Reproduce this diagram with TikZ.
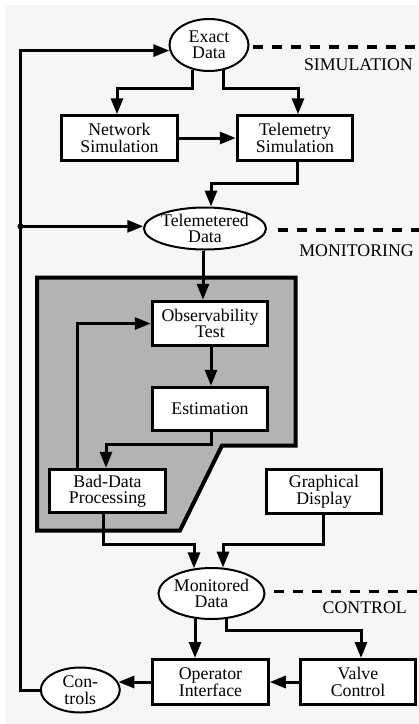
\documentclass[tikz,border=0pt]{standalone}
\usepackage{fontspec}
\setmainfont{Liberation Serif}
\usetikzlibrary{shapes.geometric,arrows.meta}
\definecolor{bgc}{HTML}{F6F6F6}
\definecolor{panel}{HTML}{B3B3B3}
\begin{document}
\begin{tikzpicture}[x=1pt,y=-1pt,
  txt/.style={font=\fontsize{17.8}{16.5}\selectfont},
  box/.style={txt,draw,line width=3pt,fill=white,rectangle,inner sep=0pt,
    minimum width=115.5pt,minimum height=44.5pt,align=center},
  oval/.style={txt,draw,line width=2pt,fill=white,ellipse,inner sep=-8pt,align=center},
  arr/.style={line width=3pt,-{Triangle[length=16pt,width=12pt]}},
  dashline/.style={line width=3.5pt,dash pattern=on 10pt off 9pt},
  lab/.style={txt,inner sep=0pt,anchor=east}]
\useasboundingbox (0,0) rectangle (419,724);
\fill[white] (0,0) rectangle (419,724);
\fill[bgc] (5,5) rectangle (419,724);
% shaded monitoring panel
\draw[line width=4pt,fill=panel,line join=miter]
  (37,277.5) -- (295.5,277.5) -- (295.5,445.5) -- (222,445.5) -- (180,530.5) -- (37,530.5) -- cycle;
% nodes
\node[oval,minimum width=79pt,minimum height=52pt] (ed) at (209,45) {Exact\\Data};
\node[box] (ns) at (119.5,138) {Network\\Simulation};
\node[box] (ts) at (295,138) {Telemetry\\Simulation};
\node[oval,minimum width=122pt,minimum height=42pt] (tel) at (205,228.5) {Telemetered\\Data};
\node[box] (obs) at (210,323.5) {Observability\\Test};
\node[box,minimum height=43.5pt] (est) at (210,409) {Estimation};
\node[box,minimum height=43.5pt] (bdp) at (107.5,491) {Bad-Data\\Processing};
\node[box] (gd) at (324,491.5) {Graphical\\Display};
\node[oval,minimum width=106pt,minimum height=51pt] (mon) at (211.5,593.5) {Monitored\\Data};
\node[box,minimum height=45pt] (oi) at (210.5,682) {Operator\\Interface};
\node[box,minimum height=45pt] (vc) at (358,682) {Valve\\Control};
\node[oval,minimum width=79pt,minimum height=45pt] (ctl) at (80.3,690) {Con-\\trols};
% labels
\node[lab] (l1) at (413,64.5) {SIMULATION};
\node[lab] (l2) at (414,251) {MONITORING};
\node[lab] (l3) at (407,607.5) {CONTROL};
\coordinate (rim) at (419,0);
\coordinate (lc) at (20.5,690);
% dashed separators
\draw[dashline] ([xshift=3pt,yshift=-2pt]ed.east) -- ([yshift=-2pt]ed.east -| rim);
\draw[dashline] ([xshift=11pt,yshift=-1.5pt]tel.east) -- ([yshift=-1.5pt]tel.east -| rim);
\draw[dashline] ([xshift=8.5pt,yshift=2pt]mon.east) -- ([yshift=2pt]mon.east -| rim);
% connectors
\draw[arr] ([xshift=-17pt,yshift=2.5pt]ed.south) -- ++(0,19) -| ([xshift=-2.5pt]ns.north);
\draw[arr] ([xshift=14pt,yshift=1.7pt]ed.south) -- ++(0,18.2) -| ([xshift=3pt]ts.north);
\draw[arr] (ns.east) -- (ts.west);
\draw[arr] ([xshift=2pt]ts.south) -- ++(0,21.5) -| ([xshift=6pt]tel.north);
\draw[arr] ([xshift=-2pt]tel.south) -- ([xshift=-7pt]obs.north);
\draw[arr] ([xshift=1pt]obs.south) -- ([xshift=1pt]est.north);
\draw[arr] ([xshift=1pt]est.south) -- ++(0,12) -| ([xshift=-1.5pt]bdp.north);
\draw[arr] ([xshift=-30.5pt]bdp.north) |- (obs.west);
\draw[arr] ([xshift=-4.5pt]bdp.south) -- ++(0,30) -| ([xshift=-17.5pt,yshift=-1.4pt]mon.north);
\draw[arr] ([xshift=-1pt]gd.south) -- ++(0,29) -| ([xshift=11.5pt,yshift=-0.6pt]mon.north);
\draw[arr] ([xshift=-16.5pt,yshift=1.3pt]mon.south) -- ([xshift=-16.5pt]mon.south |- oi.north);
\draw[arr] ([xshift=14.5pt,yshift=1pt]mon.south) -- ++(0,11.5) -| ([xshift=3pt]vc.north);
\draw[arr] (vc.west) -- (oi.east);
\draw[arr] (oi.west) -- (oi.west -| ctl.12);
\draw[arr] (ctl.west) -- (ctl.west -| lc) |- (ed.188);
\draw[arr] (tel.178 -| lc) -- (tel.178);
\fill (tel.178 -| lc) circle (3pt);
\end{tikzpicture}
\end{document}
